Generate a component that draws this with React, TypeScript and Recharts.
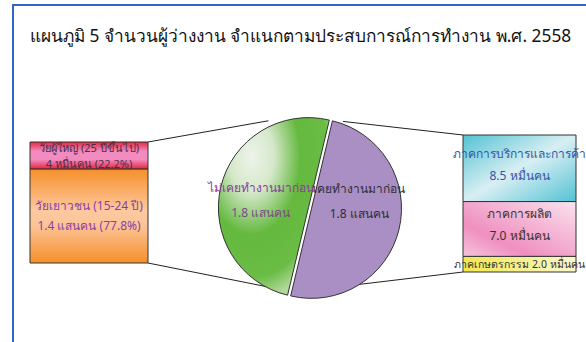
import React from "react";
import { BarChart, Bar, XAxis, YAxis, LabelList, PieChart, Pie, Cell } from "recharts";

const title = "แผนภูมิ 5 จำนวนผู้ว่างงาน จำแนกตามประสบการณ์การทำงาน พ.ศ. 2558";

// left bar: by age (bottom -> top), unit แสนคน
const ageNames = ["วัยเยาวชน (15-24 ปี)", "วัยผู้ใหญ่ (25 ปีขึ้นไป)"];
const ageValues = [1.4, 0.4];
const ageLabels = ["1.4 แสนคน (77.8%)", "4 หมื่นคน (22.2%)"];

// pie: work experience, unit แสนคน
const expNames = ["ไม่เคยทำงานมาก่อน", "เคยทำงานมาก่อน"];
const expValues = [1.8, 1.8];
const expLabels = ["1.8 แสนคน", "1.8 แสนคน"];

// right bar: by sector (bottom -> top), unit หมื่นคน
const sectorNames = ["ภาคเกษตรกรรม", "ภาคการผลิต", "ภาคการบริการและการค้า"];
const sectorValues = [2.0, 7.0, 8.5];
const sectorLabels = ["2.0 หมื่นคน", "7.0 หมื่นคน", "8.5 หมื่นคน"];

const FONT = "Tahoma, 'Noto Sans', 'DejaVu Sans', sans-serif";

const PIE = { cx: 305, cy: 203, r: 90, start: 76.6 };
const LEFT_BOX = { x: 30, y: 142, w: 118, h: 121 };
const RIGHT_BOX = { x: 463, y: 135, w: 113, h: 137 };

const ageRow: Record<string, number | string> = { name: "age" };
ageValues.forEach((v, i) => (ageRow["s" + i] = v));
const sectorRow: Record<string, number | string> = { name: "sector" };
sectorValues.forEach((v, i) => (sectorRow["s" + i] = v));
const pieData = expNames.map((name, i) => ({ name, value: expValues[i] }));

const sum = (a: number[]) => a.reduce((t, v) => t + v, 0);

const ageStyle = [
  { fill: "url(#gOrange)", color: "#8b3fa6", size: 12, dy: [-10, 10] },
  { fill: "url(#gPink)", color: "#4a2f4c", size: 11, dy: [-8, 8] },
];
const sectorStyle = [
  { fill: "url(#gYellow)", color: "#333", size: 10.5, dy: [0] },
  { fill: "url(#gRose)", color: "#333", size: 12, dy: [-15, 7] },
  { fill: "url(#gCyan)", color: "#3456a8", size: 12, dy: [-15, 7] },
];

function twoLine(names: string[], labels: string[], styles: any[], oneLine?: number) {
  return (idx: number) => (props: any) => {
    const { x, y, width, height } = props;
    const st = styles[idx];
    const mx = x + width / 2;
    const my = y + height / 2;
    const lines = idx === oneLine ? [names[idx] + " " + labels[idx]] : [names[idx], labels[idx]];
    return (
      <g>
        {lines.map((t, k) => (
          <text key={k} x={mx} y={my + st.dy[k]} textAnchor="middle" dominantBaseline="central"
            fill={st.color} fontSize={st.size} fontFamily={FONT}>
            {t}
          </text>
        ))}
      </g>
    );
  };
}

const ageLabelFor = twoLine(ageNames, ageLabels, ageStyle);
const sectorLabelFor = twoLine(sectorNames, sectorLabels, sectorStyle, 0);

function pt(angle: number) {
  const a = (angle * Math.PI) / 180;
  return [PIE.cx + PIE.r * Math.cos(a), PIE.cy - PIE.r * Math.sin(a)];
}

function Connectors() {
  const lines = [
    [[LEFT_BOX.x + LEFT_BOX.w, LEFT_BOX.y], pt(114)],
    [[LEFT_BOX.x + LEFT_BOX.w, LEFT_BOX.y + LEFT_BOX.h], pt(253)],
    [[RIGHT_BOX.x, RIGHT_BOX.y], pt(65)],
    [[RIGHT_BOX.x, RIGHT_BOX.y + RIGHT_BOX.h], pt(-69)],
  ];
  return (
    <svg width={586} height={342} style={{ position: "absolute", left: 0, top: 0 }}>
      {lines.map(([a, b], i) => (
        <line key={i} x1={a[0]} y1={a[1]} x2={b[0]} y2={b[1]} stroke="#222" strokeWidth={1} />
      ))}
    </svg>
  );
}

// shift each slice slightly apart along the normal of the split line
const split = ((PIE.start - 90) * Math.PI) / 180;
const off = 1.6;
const nx = Math.cos(split) * off;
const ny = -Math.sin(split) * off;

const PW = 240;
const PH = 200;
const pieLeft = PIE.cx - PW / 2;
const pieTop = PIE.cy - PH / 2;

export default function App() {
  const pieLabel = (which: number) => (p: any) => {
    if (p.index !== which) return null;
    const a = (p.midAngle * Math.PI) / 180;
    const x = p.cx + 49 * Math.cos(a);
    const colors = which === 0 ? ["#8a3d9e", "#7a4a88"] : ["#2d2d3a", "#2d2d3a"];
    return (
      <g>
        <text x={x} y={p.cy - 20} textAnchor="middle" dominantBaseline="central" fill={colors[0]} fontSize={12} fontFamily={FONT}>
          {expNames[which]}
        </text>
        <text x={x} y={p.cy + 5} textAnchor="middle" dominantBaseline="central" fill={colors[1]} fontSize={12} fontFamily={FONT}>
          {expLabels[which]}
        </text>
      </g>
    );
  };

  return (
    <div style={{ position: "absolute", left: 0, top: 0, width: 586, height: 342, background: "#fff", overflow: "hidden", fontFamily: FONT }}>
      <div style={{ position: "absolute", left: 12, top: 4, width: 700, height: 500, border: "2px solid #3465c4" }} />
      <div style={{ position: "absolute", left: 30, top: 22, fontSize: 17.3, color: "#111", whiteSpace: "nowrap" }}>{title}</div>

      <Connectors />

      <svg width={0} height={0} style={{ position: "absolute" }}>
        <defs>
          <linearGradient id="gOrange" x1="0" y1="0" x2="0" y2="1">
            <stop offset="0" stopColor="#f5902a" />
            <stop offset="0.45" stopColor="#fdc9a0" />
            <stop offset="0.6" stopColor="#fcc397" />
            <stop offset="1" stopColor="#f5902a" />
          </linearGradient>
          <linearGradient id="gPink" x1="0" y1="0" x2="0" y2="1">
            <stop offset="0" stopColor="#e6283f" />
            <stop offset="0.35" stopColor="#f28bbf" />
            <stop offset="0.65" stopColor="#f28bbf" />
            <stop offset="1" stopColor="#e6283f" />
          </linearGradient>
          <linearGradient id="gCyan" x1="0" y1="0" x2="1" y2="1">
            <stop offset="0" stopColor="#53c2d3" />
            <stop offset="0.5" stopColor="#d8eff3" />
            <stop offset="1" stopColor="#53c2d3" />
          </linearGradient>
          <linearGradient id="gRose" x1="1" y1="0" x2="0" y2="1">
            <stop offset="0" stopColor="#fbe3ee" />
            <stop offset="0.7" stopColor="#ef8fc0" />
            <stop offset="1" stopColor="#f6c4dc" />
          </linearGradient>
          <linearGradient id="gYellow" x1="0" y1="0" x2="1" y2="0">
            <stop offset="0" stopColor="#f2e84e" />
            <stop offset="1" stopColor="#fbf8cc" />
          </linearGradient>
          <radialGradient id="gGreen" cx="0.3" cy="0.22" r="0.8">
            <stop offset="0" stopColor="#eef3ea" />
            <stop offset="0.25" stopColor="#d6e8cb" />
            <stop offset="0.55" stopColor="#64b93e" />
            <stop offset="0.85" stopColor="#6abc45" />
            <stop offset="1" stopColor="#b0d89a" />
          </radialGradient>
        </defs>
      </svg>

      <div style={{ position: "absolute", left: LEFT_BOX.x - 1, top: LEFT_BOX.y - 1 }}>
        <BarChart width={LEFT_BOX.w + 2} height={LEFT_BOX.h + 2} data={[ageRow]} barCategoryGap={0}
          margin={{ top: 1, right: 1, bottom: 1, left: 1 }}>
          <XAxis dataKey="name" hide />
          <YAxis hide domain={[0, sum(ageValues)]} />
          {ageValues.map((_, i) => (
            <Bar key={i} dataKey={"s" + i} stackId="a" fill={ageStyle[i].fill} stroke="#333" strokeWidth={1} isAnimationActive={false}>
              <LabelList content={ageLabelFor(i)} />
            </Bar>
          ))}
        </BarChart>
      </div>

      <div style={{ position: "absolute", left: pieLeft, top: pieTop }}>
        <PieChart width={PW} height={PH}>
          <Pie data={pieData} dataKey="value" cx={PW / 2 - nx} cy={PH / 2 - ny} outerRadius={PIE.r}
            startAngle={PIE.start} endAngle={PIE.start + 360} isAnimationActive={false}
            label={pieLabel(0)} labelLine={false}>
            <Cell fill="url(#gGreen)" stroke="#333" strokeWidth={1} />
            <Cell fill="none" stroke="none" />
          </Pie>
          <Pie data={pieData} dataKey="value" cx={PW / 2 + nx} cy={PH / 2 + ny} outerRadius={PIE.r}
            startAngle={PIE.start} endAngle={PIE.start + 360} isAnimationActive={false}
            label={pieLabel(1)} labelLine={false}>
            <Cell fill="none" stroke="none" />
            <Cell fill="#a98fc4" stroke="#333" strokeWidth={1} />
          </Pie>
        </PieChart>
      </div>

      <div style={{ position: "absolute", left: RIGHT_BOX.x - 14, top: RIGHT_BOX.y - 1 }}>
        <BarChart width={RIGHT_BOX.w + 28} height={RIGHT_BOX.h + 2} data={[sectorRow]} barCategoryGap={0}
          margin={{ top: 1, right: 14, bottom: 1, left: 14 }}>
          <XAxis dataKey="name" hide />
          <YAxis hide domain={[0, sum(sectorValues)]} />
          {sectorValues.map((_, i) => (
            <Bar key={i} dataKey={"s" + i} stackId="a" fill={sectorStyle[i].fill} stroke="#333" strokeWidth={1} isAnimationActive={false}>
              <LabelList content={sectorLabelFor(i)} />
            </Bar>
          ))}
        </BarChart>
      </div>
    </div>
  );
}
